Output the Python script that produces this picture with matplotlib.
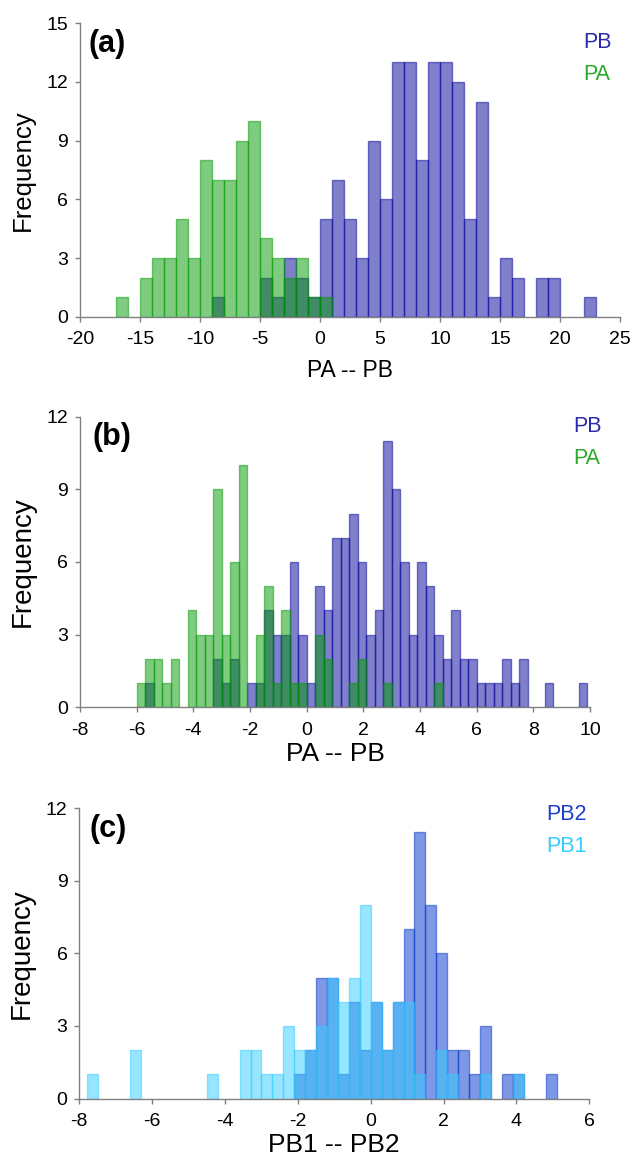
import numpy as np
import matplotlib
matplotlib.use("Agg")
import matplotlib.pyplot as plt

plt.rcParams['font.family'] = ['Liberation Sans', 'DejaVu Sans']
plt.rcParams['axes.unicode_minus'] = False

# ---------------- data ----------------
# Panel (a): bin width 1
a_bin_width = 1.0
a_pa_start = -17
a_pa_counts = [1, 0, 2, 3, 3, 5, 3, 8, 7, 7, 9, 10, 4, 3, 2, 3, 1, 1]
a_pb_start = -9
a_pb_counts = [1, 0, 0, 0, 2, 1, 3, 2, 1, 5, 7, 5, 3, 9, 6, 13, 13, 8, 13, 13,
               12, 5, 11, 1, 3, 2, 0, 2, 2, 0, 0, 1]

# Panel (b): bin width 0.3
b_bin_width = 0.3
b_pa_start = -6.0
b_pa_counts = [1, 2, 2, 1, 2, 0, 4, 3, 3, 9, 3, 6, 10, 0, 3, 5, 1, 4, 1, 1,
               0, 3, 2, 0, 0, 1, 2, 0, 0, 1, 0, 0, 0, 0, 0, 1]
b_pb_start = -6.0
b_pb_counts = [0, 1, 0, 0, 0, 0, 0, 0, 0, 2, 1, 2, 0, 1, 1, 4, 3, 3, 6, 3,
               1, 5, 4, 7, 7, 8, 6, 3, 4, 11, 9, 6, 3, 6, 5, 3, 2, 4, 2, 2,
               1, 1, 1, 2, 1, 2, 0, 0, 1, 0, 0, 0, 1]

# Panel (c): bin width 0.3
c_bin_width = 0.3
c_pb1_start = -7.8
c_pb1_counts = [1, 0, 0, 0, 2, 0, 0, 0, 0, 0, 0, 1, 0, 0, 2, 2, 1, 1, 3, 2,
                2, 3, 5, 4, 5, 8, 4, 2, 4, 4, 1, 0, 2, 1, 0, 0, 1, 0, 0, 1,
                0, 0, 0]
c_pb2_start = -2.1
c_pb2_counts = [1, 2, 5, 5, 1, 4, 2, 4, 2, 4, 7, 11, 8, 6, 2, 2, 1, 3, 0, 1,
                1, 0, 0, 1]

panel_labels = ['(a)', '(b)', '(c)']
x_labels = ['PA -- PB', 'PA -- PB', 'PB1 -- PB2']
y_label = 'Frequency'

# ---------------- styles ----------------
C_PB = '#000099'
C_PA = '#009900'
C_PB2 = '#0033cc'
C_PB1 = '#33ccff'
SPINE = '#808080'

fig = plt.figure(figsize=(6.34, 11.66), dpi=100)
W, H = 634, 1166


def make_ax(left, top, right, bottom):
    return fig.add_axes([left / W, 1 - bottom / H, (right - left) / W, (bottom - top) / H])


def draw_hist(ax, start, counts, width, color):
    counts = np.asarray(counts, dtype=float)
    edges = start + width * np.arange(len(counts))
    m = counts > 0
    ax.bar(edges[m], counts[m], width=width, align='edge', color=color,
           edgecolor=color, linewidth=1.0, alpha=0.5, zorder=2)


def style_ax(ax, xlim, xticks, ylim, yticks, tick_fs, xlabel, xl_fs, yl_fs, xlpad, ylpad):
    ax.set_xlim(*xlim)
    ax.set_ylim(*ylim)
    ax.set_xticks(xticks)
    ax.set_yticks(yticks)
    for s in ['top', 'right']:
        ax.spines[s].set_visible(False)
    for s in ['left', 'bottom']:
        ax.spines[s].set_color(SPINE)
        ax.spines[s].set_linewidth(1.0)
        ax.spines[s].set_zorder(3)
    ax.tick_params(axis='both', direction='out', length=3.5, width=1.0, color=SPINE,
                   labelsize=tick_fs, labelcolor='black')
    ax.tick_params(axis='x', pad=7)
    ax.tick_params(axis='y', pad=5)
    ax.set_xlabel(xlabel, fontsize=xl_fs, labelpad=xlpad)
    ax.set_ylabel(y_label, fontsize=yl_fs, labelpad=ylpad)
    ax.patch.set_alpha(0)


# Panel (a)
ax1 = make_ax(80, 23.3, 620, 316.7)
draw_hist(ax1, a_pb_start, a_pb_counts, a_bin_width, C_PB)
draw_hist(ax1, a_pa_start, a_pa_counts, a_bin_width, C_PA)
style_ax(ax1, (-20, 25), np.arange(-20, 26, 5), (0, 15), np.arange(0, 16, 3),
         14, x_labels[0], 16.5, 18.5, 8, 8)
ax1.text(0.015, 0.93, panel_labels[0], transform=ax1.transAxes, fontsize=22,
         fontweight='bold', va='center', ha='left')
fig.text(583 / W, 1 - 42 / H, 'PB', color='#2a2aaa', fontsize=15.5, va='center', ha='left')
fig.text(583 / W, 1 - 74 / H, 'PA', color='#2aaa2a', fontsize=15.5, va='center', ha='left')

# Panel (b)
ax2 = make_ax(80, 416.7, 590, 707.3)
draw_hist(ax2, b_pb_start, b_pb_counts, b_bin_width, C_PB)
draw_hist(ax2, b_pa_start, b_pa_counts, b_bin_width, C_PA)
style_ax(ax2, (-8, 10), np.arange(-8, 11, 2), (0, 12), np.arange(0, 13, 3),
         14, x_labels[1], 19, 20, 2, 8)
ax2.text(0.025, 0.93, panel_labels[1], transform=ax2.transAxes, fontsize=22,
         fontweight='bold', va='center', ha='left')
fig.text(573 / W, 1 - 426 / H, 'PB', color='#2a2aaa', fontsize=15.5, va='center', ha='left')
fig.text(573 / W, 1 - 459 / H, 'PA', color='#2aaa2a', fontsize=15.5, va='center', ha='left')

# Panel (c)
ax3 = make_ax(79.3, 808.3, 589.3, 1098.5)
draw_hist(ax3, c_pb2_start, c_pb2_counts, c_bin_width, C_PB2)
draw_hist(ax3, c_pb1_start, c_pb1_counts, c_bin_width, C_PB1)
style_ax(ax3, (-8, 6), np.arange(-8, 7, 2), (0, 12), np.arange(0, 13, 3),
         14, x_labels[2], 19, 20, 2, 8)
ax3.text(0.02, 0.93, panel_labels[2], transform=ax3.transAxes, fontsize=22,
         fontweight='bold', va='center', ha='left')
fig.text(546 / W, 1 - 814 / H, 'PB2', color='#1a3fcc', fontsize=15.5, va='center', ha='left')
fig.text(546 / W, 1 - 847 / H, 'PB1', color='#33ccff', fontsize=15.5, va='center', ha='left')

fig.savefig('out.png', dpi=100)
